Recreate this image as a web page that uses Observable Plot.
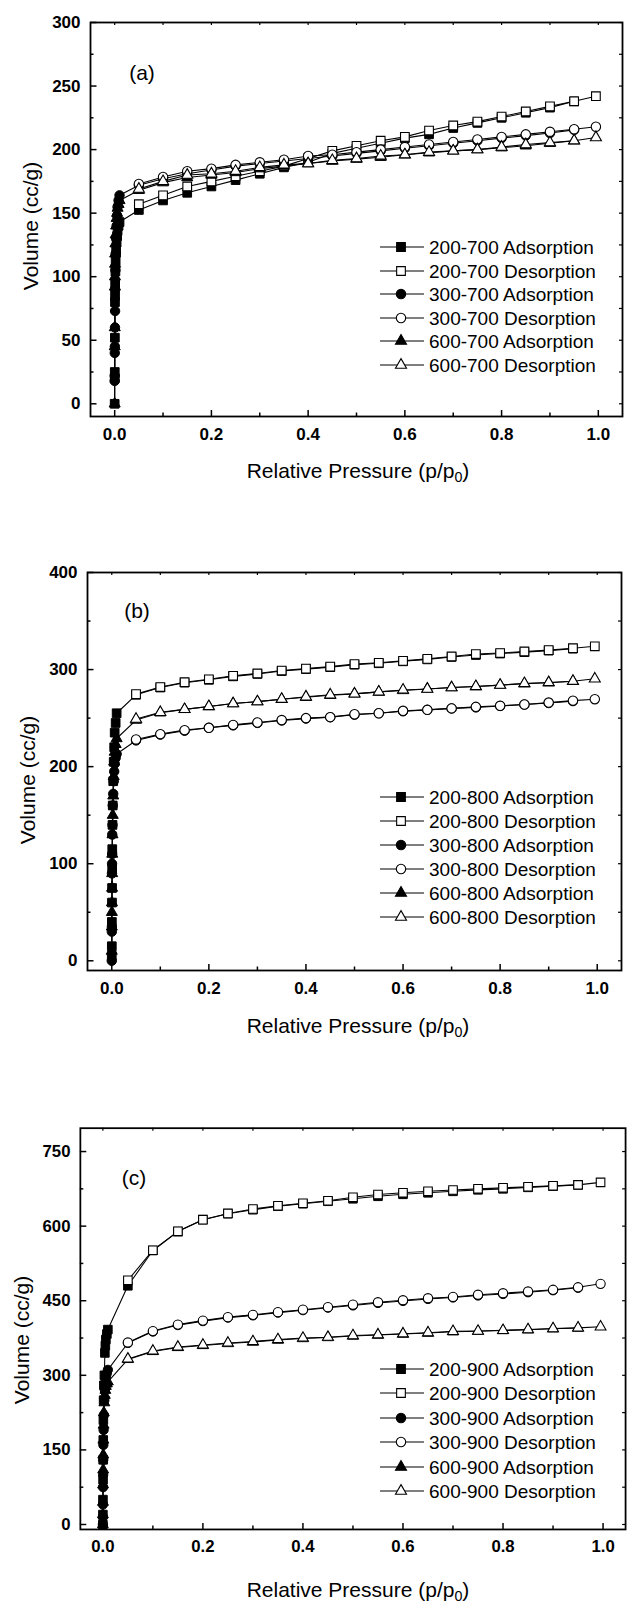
<!DOCTYPE html>
<html><head><meta charset="utf-8">
<script src="https://cdn.jsdelivr.net/npm/d3@7"></script>
<script src="https://cdn.jsdelivr.net/npm/@observablehq/plot@0.6"></script>
<style>
html,body{margin:0;padding:0;background:#fff;overflow:hidden;}
#wrap{position:relative;width:631px;height:1604px;overflow:hidden;font-family:"Liberation Sans",Arial,sans-serif;color:#000;}
.panel{position:absolute;left:0;}
.ov{position:absolute;white-space:nowrap;color:#000;line-height:1;}
.ov sub{font-size:0.68em;vertical-align:-0.3em;line-height:0;}
</style></head>
<body><div id="wrap"></div>
<script>
// ---------- data ----------
const lowPressure = [0, 0.0001, 0.0002, 0.0004, 0.0006, 0.0008, 0.001, 0.0015, 0.002, 0.003, 0.004, 0.005, 0.006, 0.008, 0.01];
const adsPressure = [0.05,0.1,0.15,0.2,0.25,0.3,0.35,0.4,0.45,0.5,0.55,0.6,0.65,0.7,0.75,0.8,0.85,0.9,0.95];
const desPressure = [0.05,0.1,0.15,0.2,0.25,0.3,0.35,0.4,0.45,0.5,0.55,0.6,0.65,0.7,0.75,0.8,0.85,0.9,0.95,0.995];
const samples = ["200","300","600"];
const panelTags = ["700","800","900"];
const panelLetters = ["(a)","(b)","(c)"];
const xTickValues = [0,0.2,0.4,0.6,0.8,1.0];
const xMinorValues = [0.1,0.3,0.5,0.7,0.9];
const yTicksA = [0,50,100,150,200,250,300];
const yTicksB = [0,100,200,300,400];
const yTicksC = [0,150,300,450,600,750];

// panel (a) 700
const a200Low = [0,20,25,52,80,85,95,104,112,120,127,132,136,140,143];
const a200Ads = [152.5,160,166,171,176,181,186,190,197,201,205,209,212,217,221,225,229,233,238];
const a200Des = [157,164,171,175,179,183,187,193,199,203,207,210,215,219,222,226,230,234,238,242];
const a300Low = [18,22,40,45,60,73,90,105,118,130,140,148,155,160,164];
const a300Ads = [172,177,181,184,187,189,191,193,195,197,199,201,203,205,207,209,211,213,215.5];
const a300Des = [173,178.5,183,185,188,190,192,195,196,198,200,202,204,206,208,210,212,214,216,218];
const a600Low = [0,45,60,92,100,110,118,126,133,140,146,150,154,157,160];
const a600Ads = [168,174,178,180,182,185,187,189,191,192.5,194,196,197.5,199,200,201.5,203,205,207];
const a600Des = [169,175,180,181,183,186,188,189,191.5,193,195,196,198,199,200,202,204,205.5,207,209.5];

// panel (b) 800
const b200Low = [5,15,40,60,75,95,115,140,160,185,205,220,235,245,255];
const b200Ads = [274,281.5,286.5,289.5,293,295.5,298.5,300.5,302.5,305,306.5,308.5,310.5,313,315,316.5,318,319.5,321.5];
const b200Des = [274.7,282,287,290,293.6,296,299,301,303,305.6,307,309,311,313.5,316,317,318.6,320,322,324];
const b300Low = [0,30,35,90,100,110,130,140,160,172,185,195,203,209,213];
const b300Ads = [227,233,237,240,242.5,245,247.5,249.5,251,253.5,255,257,258.5,260,261,262.5,264,265.5,267.5];
const b300Des = [228,233.5,237.6,240,243,245.5,248,250,251,254,255,257.5,258.5,260,261.6,262.7,264,266,268,269.5];
const b600Low = [10,35,50,60,75,90,110,130,150,170,190,205,215,223,229];
const b600Ads = [248,255.5,259,262,265,267,269.5,271.5,273.5,275,277,278.5,280,281.5,282.5,284,285.5,286.5,288];
const b600Des = [249,256,259,262,265,267,269.5,272,274,275,277,279,280,281.5,282.6,284,285.7,286.7,288,290.5];

// panel (c) 900
const c200Low = [0,20,50,90,130,170,210,250,280,300,345,360,372,383,392];
const c200Ads = [480,551,589,613,625,633,640,645,650,655,660,664,667,670,673,675,678,680.5,683];
const c200Des = [491,551.6,589.6,613,625.6,634.5,640.8,646,651,658,663.6,667,670,672.6,675,677,679,681,683,688];
const c300Low = [0,15,40,75,100,130,160,190,220,250,270,285,296,304,311];
const c300Ads = [365,388,401,409,416,420.5,426,431,436,440.5,445.5,449.5,453.5,456.5,460.5,463.5,467,471,476];
const c300Des = [366,389,402,410,417,421.6,427,432,437,442,447,451,455,457.6,462,465,468.6,472,477,484];
const c600Low = [0,20,45,80,110,140,170,200,225,245,260,270,278,283,287];
const c600Ads = [332,348,356,360,364,367,371,374,376,379,381,383,385,387.5,388.5,390,391.5,393.5,395];
const c600Des = [333,349,357,361,365,368,372,375,376.7,380,381.6,383.6,385.7,388.5,389,390.5,392,394,395.4,397.5];

const panelSeries = [
  [[a200Low,a200Ads,a200Des],[a300Low,a300Ads,a300Des],[a600Low,a600Ads,a600Des]],
  [[b200Low,b200Ads,b200Des],[b300Low,b300Ads,b300Des],[b600Low,b600Ads,b600Des]],
  [[c200Low,c200Ads,c200Des],[c300Low,c300Ads,c300Des],[c600Low,c600Ads,c600Des]]
];
const panelYTicks = [yTicksA, yTicksB, yTicksC];

// ---------- layout (not data) ----------
const layout = [
  {svgTop:0,   width:631, left:90, right:622, top:22,   bottom:416,  x:[-0.05,1.05],  y:[-10,300],
   label:[142,72], legendTop:247, legendStep:23.6, xTitle:[358,470], yTitle:[30,226]},
  {svgTop:550, width:631, left:87, right:621, top:572,  bottom:970,  x:[-0.05,1.05],  y:[-10,400],
   label:[137,610], legendTop:797, legendStep:24, xTitle:[358,1025], yTitle:[27,780]},
  {svgTop:1106,width:640, left:81, right:634, top:1128, bottom:1535, x:[-0.045,1.045], y:[-10,797],
   label:[134,1177], legendTop:1369, legendStep:24.4, xTitle:[358,1589], yTitle:[21,1340]}
];
const symbols = ["square","circle","triangle"];
const symbolR = {square:4.9, circle:4.7, triangle:4.1};
const d3Sym = {square:d3.symbolSquare, circle:d3.symbolCircle, triangle:d3.symbolTriangle};
const FONT = '"Liberation Sans", Arial, sans-serif';

const wrap = document.getElementById("wrap");

function overlay(html, x, y, css, transform) {
  const d = document.createElement("div");
  d.className = "ov";
  d.innerHTML = html;
  d.style.cssText += css;
  d.style.left = x + "px";
  d.style.top = y + "px";
  d.style.transform = transform || "translate(-50%,-50%)";
  wrap.appendChild(d);
  return d;
}

layout.forEach((L, pi) => {
  const H = L.bottom - L.svgTop + 44;
  const fw = L.right - L.left, fh = L.bottom - L.top;
  const yt = panelYTicks[pi];
  const step = yt[1] - yt[0];
  const yMinor = yt.map(v => v + step/2).filter(v => v < L.y[1]);
  const yAll = yt.concat(yMinor);
  const xAll = xTickValues.concat(xMinorValues);

  const marks = [
    Plot.frame({stroke:"#000", strokeWidth:1.8}),
    Plot.tickX(xTickValues, {x:d=>d, insetTop:fh-6, stroke:"#000", strokeWidth:1.5}),
    Plot.tickX(xMinorValues, {x:d=>d, insetTop:fh-3.5, stroke:"#000", strokeWidth:1.5}),
    Plot.tickX(xAll, {x:d=>d, insetBottom:fh-3, stroke:"#000", strokeWidth:1.2}),
    Plot.tickY(yt, {y:d=>d, insetRight:fw-6.5, stroke:"#000", strokeWidth:1.5}),
    Plot.tickY(yMinor, {y:d=>d, insetRight:fw-3.5, stroke:"#000", strokeWidth:1.5}),
    Plot.tickY(yAll, {y:d=>d, insetLeft:fw-3, stroke:"#000", strokeWidth:1.2}),
    Plot.axisX(xTickValues, {tickSize:0, tickPadding:11, tickFormat:d3.format(".1f"), fontSize:17, fontWeight:"bold", fill:"#000", label:null}),
    Plot.axisY(yt, {tickSize:0, tickPadding:10, tickFormat:d3.format("d"), fontSize:17, fontWeight:"bold", fill:"#000", label:null})
  ];

  panelSeries[pi].forEach((ser, si) => {
    const [low, ads, des] = ser;
    const sym = symbols[si];
    const adsData = lowPressure.map((p,i)=>({p, v:low[i]})).concat(adsPressure.map((p,i)=>({p, v:ads[i]})));
    const desData = desPressure.map((p,i)=>({p, v:des[i]})).reverse();
    marks.push(
      Plot.line(adsData, {x:"p", y:"v", stroke:"#000", strokeWidth:1.1}),
      Plot.dot(adsData, {x:"p", y:"v", symbol:sym, r:symbolR[sym], fill:"#000", stroke:"#000", strokeWidth:1}),
      Plot.line(desData, {x:"p", y:"v", stroke:"#000", strokeWidth:1.1}),
      Plot.dot(desData, {x:"p", y:"v", symbol:sym, r:symbolR[sym], fill:"#fff", stroke:"#000", strokeWidth:1.1})
    );
  });

  const chart = Plot.plot({
    width: L.width, height: H,
    marginTop: L.top - L.svgTop, marginBottom: H - (L.bottom - L.svgTop),
    marginLeft: L.left, marginRight: L.width - L.right,
    x: {domain: L.x, axis: null},
    y: {domain: L.y, axis: null},
    style: {fontFamily: FONT, background: "transparent", overflow: "visible", color:"#000"},
    marks
  });
  chart.classList.add("panel");
  chart.style.top = L.svgTop + "px";
  wrap.appendChild(chart);

  overlay(panelLetters[pi], L.label[0], L.label[1], "font-size:21px;");
  overlay('Relative Pressure (p/p<sub>0</sub>)', L.xTitle[0], L.xTitle[1], "font-size:21px;");
  overlay('Volume (cc/g)', L.yTitle[0], L.yTitle[1], "font-size:21px;", "translate(-50%,-50%) rotate(-90deg)");

  const names = [];
  samples.forEach((s, si) => {
    names.push({text:`${s}-${panelTags[pi]} Adsorption`, sym:symbols[si], fill:"#000"});
    names.push({text:`${s}-${panelTags[pi]} Desorption`, sym:symbols[si], fill:"#fff"});
  });
  names.forEach((n, i) => {
    const cy = L.legendTop + i * L.legendStep;
    const svg = d3.create("svg").attr("width", 48).attr("height", 20)
      .style("position","absolute").style("left","378px").style("top",(cy-10)+"px").style("overflow","visible");
    svg.append("line").attr("x1",2).attr("x2",46).attr("y1",10).attr("y2",10).attr("stroke","#000").attr("stroke-width",1.1);
    const r = symbolR[n.sym];
    svg.append("path").attr("transform","translate(23,10)")
      .attr("d", d3.symbol().type(d3Sym[n.sym]).size(Math.PI*r*r)())
      .attr("fill", n.fill).attr("stroke","#000").attr("stroke-width",1.1);
    wrap.appendChild(svg.node());
    overlay(n.text, 429, cy, "font-size:19px;", "translate(0,-50%)");
  });
});
</script>
</body></html>
